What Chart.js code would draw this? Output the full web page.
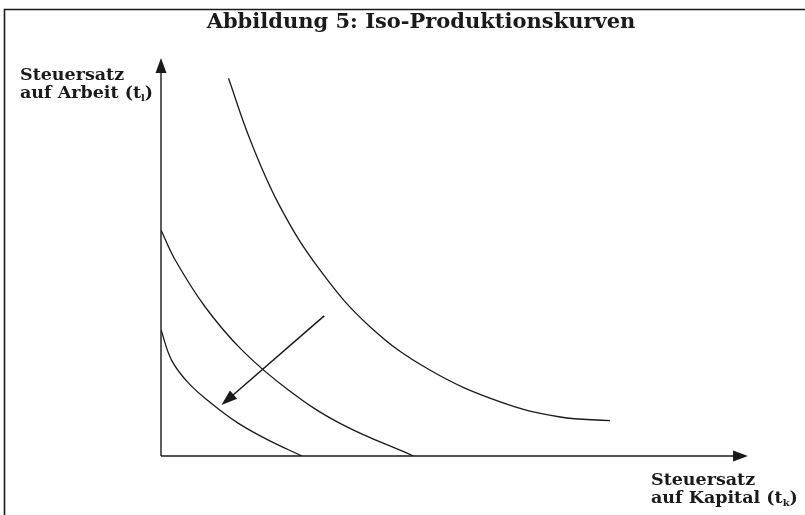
<!DOCTYPE html>
<html>
<head>
<meta charset="utf-8">
<script src="https://cdn.jsdelivr.net/npm/chart.js@4.4.0/dist/chart.umd.min.js"></script>
<style>
  html, body { margin: 0; padding: 0; background: #fff; }
  #wrap { width: 805px; height: 515px; }
</style>
</head>
<body>
<div id="wrap"><canvas id="iso" width="805" height="515"></canvas></div>
<script>
'use strict';

// Iso-Produktionskurven, x = Steuersatz auf Kapital, y = Steuersatz auf Arbeit (0..100)
const outerX = [11.5, 15.2, 20.3, 27.1, 35.6, 45.8, 57.8, 68.0, 76.5];
const outerY = [94.9, 79.4, 62.6, 46.7, 32.5, 21.6, 13.6, 9.8, 8.9];

const middleX = [0, 2.4, 7.5, 13.8, 21.7, 30.5, 43.0];
const middleY = [56.8, 49.3, 37.5, 26.6, 16.6, 8.2, 0];

const innerX = [0, 1.8, 4.7, 8.6, 13.2, 18.3, 24.0];
const innerY = [31.7, 24.1, 18.3, 13.2, 8.2, 4.0, 0];

// Verschiebungspfeil (Start -> Spitze)
const shiftArrowX = [27.8, 10.3];
const shiftArrowY = [35.2, 12.8];

const titleText = 'Abbildung 5: Iso-Produktionskurven';
const yLabel = ['Steuersatz', 'auf Arbeit (t', 'l', ')'];
const xLabel = ['Steuersatz', 'auf Kapital (t', 'k', ')'];

const toPoints = (xs, ys) => xs.map((x, i) => ({x: x, y: ys[i]}));

const lineSet = function(xs, ys){
  return {
    data: toPoints(xs, ys),
    showLine: true,
    borderColor: '#1a1a1a',
    borderWidth: 1.3,
    pointRadius: 0,
    fill: false,
    tension: 0.4
  };
};

const arrowHead = function(ctx, x1, y1, x2, y2, len, half){
  const a = Math.atan2(y2 - y1, x2 - x1);
  ctx.beginPath();
  ctx.moveTo(x2, y2);
  ctx.lineTo(x2 - len * Math.cos(a) + half * Math.sin(a), y2 - len * Math.sin(a) - half * Math.cos(a));
  ctx.lineTo(x2 - len * Math.cos(a) - half * Math.sin(a), y2 - len * Math.sin(a) + half * Math.cos(a));
  ctx.closePath();
  ctx.fill();
};

const subLabel = function(ctx, parts, x, y1, y2){
  const big = 'bold 17.5px "DejaVu Serif"';
  ctx.font = big;
  ctx.fillText(parts[0], x, y1);
  ctx.fillText(parts[1], x, y2);
  let w = ctx.measureText(parts[1]).width;
  ctx.font = 'bold 10px "DejaVu Serif"';
  ctx.fillText(parts[2], x + w, y2 + 3);
  w += ctx.measureText(parts[2]).width;
  ctx.font = big;
  ctx.fillText(parts[3], x + w, y2);
};

const decorPlugin = {
  id: 'decor',
  afterDatasetsDraw(chart){
    const ctx = chart.ctx;
    const xs = chart.scales.x, ys = chart.scales.y;
    const x0 = xs.getPixelForValue(0), y0 = ys.getPixelForValue(0);
    const xEnd = xs.getPixelForValue(100), yEnd = ys.getPixelForValue(100);
    ctx.save();
    ctx.strokeStyle = '#1a1a1a';
    ctx.fillStyle = '#1a1a1a';

    // Rahmen
    ctx.lineWidth = 1.6;
    ctx.beginPath();
    ctx.moveTo(4.5, 520);
    ctx.lineTo(4.5, 9.5);
    ctx.lineTo(810, 9.5);
    ctx.stroke();

    // Titel
    ctx.font = 'bold 21px "DejaVu Serif"';
    ctx.textAlign = 'center';
    ctx.textBaseline = 'alphabetic';
    ctx.fillText(titleText, 421, 28);

    // Achsen
    ctx.lineWidth = 1.4;
    ctx.beginPath();
    ctx.moveTo(x0, y0);
    ctx.lineTo(x0, yEnd + 10);
    ctx.moveTo(x0, y0);
    ctx.lineTo(xEnd - 10, y0);
    ctx.stroke();
    arrowHead(ctx, x0, y0, x0, yEnd, 15, 5.5);
    arrowHead(ctx, x0, y0, xEnd, y0, 15, 5.5);

    // Pfeil
    const ax1 = xs.getPixelForValue(shiftArrowX[0]), ay1 = ys.getPixelForValue(shiftArrowY[0]);
    const ax2 = xs.getPixelForValue(shiftArrowX[1]), ay2 = ys.getPixelForValue(shiftArrowY[1]);
    const ang = Math.atan2(ay2 - ay1, ax2 - ax1);
    ctx.lineWidth = 1.5;
    ctx.beginPath();
    ctx.moveTo(ax1, ay1);
    ctx.lineTo(ax2 - 10 * Math.cos(ang), ay2 - 10 * Math.sin(ang));
    ctx.stroke();
    arrowHead(ctx, ax1, ay1, ax2, ay2, 16, 5.5);

    // Achsenbeschriftungen
    ctx.textAlign = 'left';
    subLabel(ctx, yLabel, 20, 80, 98);
    subLabel(ctx, xLabel, 651, 485, 503);
    ctx.restore();
  }
};

new Chart(document.getElementById('iso'), {
  type: 'scatter',
  data: {
    datasets: [
      lineSet(outerX, outerY),
      lineSet(middleX, middleY),
      lineSet(innerX, innerY)
    ]
  },
  options: {
    responsive: false,
    animation: false,
    layout: { padding: { left: 161, right: 57, top: 58, bottom: 59 } },
    plugins: { legend: { display: false }, tooltip: { enabled: false } },
    scales: {
      x: { type: 'linear', min: 0, max: 100, display: false },
      y: { type: 'linear', min: 0, max: 100, display: false }
    }
  },
  plugins: [decorPlugin]
});
</script>
</body>
</html>
